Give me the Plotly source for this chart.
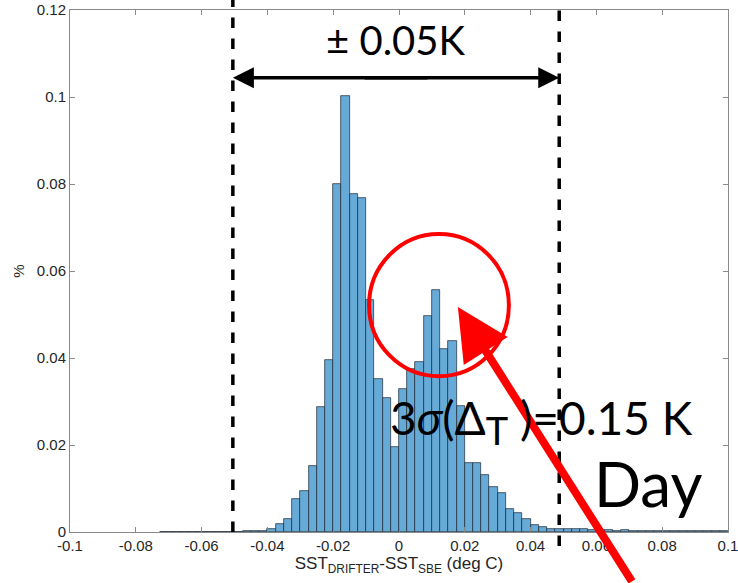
import numpy as np
import plotly.graph_objects as go

# ---- data ----
bin_width = 0.0025
first_bin_left = -0.0725
pct = [
    # -0.0725 .. -0.0425
    0.0001, 0.0001, 0.0001, 0.0001, 0.0001, 0.0001, 0.0001, 0.0001,
    0.0001, 0.0001, 0.0002, 0.0002, 0.0003,
    # -0.04 .. 0.0475
    0.0007, 0.0019, 0.0030, 0.0075, 0.0094, 0.0151, 0.0288, 0.0395,
    0.0801, 0.1002, 0.0778, 0.0767, 0.0533, 0.0351, 0.0308, 0.0195,
    0.0328, 0.0374, 0.0390, 0.0496, 0.0556, 0.0420, 0.0439, 0.0290,
    0.0159, 0.0158, 0.0130, 0.0104, 0.0090, 0.0054, 0.0044, 0.0029,
    0.0015, 0.0012, 0.0007, 0.0007,
    # 0.05 .. 0.0975
    0.0008, 0.0007, 0.0006, 0.0005, 0.0004, 0.0004, 0.0003, 0.0004,
    0.0003, 0.0003, 0.0002, 0.0003, 0.0002, 0.0003, 0.0002, 0.0003,
    0.0002, 0.0003, 0.0002, 0.0003,
]
bin_centers = [round(first_bin_left + bin_width * (i + 0.5), 5) for i in range(len(pct))]

x_tickvals = [-0.1, -0.08, -0.06, -0.04, -0.02, 0, 0.02, 0.04, 0.06, 0.08, 0.1]
x_ticktext = ["-0.1", "-0.08", "-0.06", "-0.04", "-0.02", "0", "0.02", "0.04", "0.06", "0.08", "0.1"]
y_tickvals = [0, 0.02, 0.04, 0.06, 0.08, 0.1, 0.12]
y_ticktext = ["0", "0.02", "0.04", "0.06", "0.08", "0.1", "0.12"]

# annotation values (data units)
limit_lines = [-0.0505, 0.0487]
circle_x = [-0.0091, 0.0334]
circle_y = [0.0358, 0.0685]
arrow_tip = (0.0179, 0.0517)

fig = go.Figure()
fig.add_trace(go.Bar(
    x=bin_centers, y=pct, width=bin_width,
    marker=dict(color="rgb(102,170,215)", line=dict(color="#1c2733", width=0.7)),
    showlegend=False, hoverinfo="x+y",
))

axis_common = dict(
    showline=True, linecolor="#8a8a8a", linewidth=1, mirror="ticks",
    ticks="inside", ticklen=5, tickcolor="#8a8a8a", showgrid=False, zeroline=False,
    tickfont=dict(family="Liberation Sans", size=15, color="#262626"),
    automargin=False, ticklabeloverflow="allow",
)

fig.update_layout(
    width=738, height=583,
    margin=dict(l=70, r=10, t=10, b=51),
    plot_bgcolor="white", paper_bgcolor="white",
    bargap=0,
    xaxis=dict(range=[-0.1, 0.1], tickvals=x_tickvals, ticktext=x_ticktext,
               title=dict(text="SST<sub>DRIFTER</sub>-SST<sub>SBE</sub> (deg C)",
                          font=dict(family="Liberation Sans", size=17, color="#262626"),
                          standoff=4),
               **axis_common),
    yaxis=dict(range=[0, 0.12], tickvals=y_tickvals, ticktext=y_ticktext,
               title=dict(text="%", font=dict(family="Liberation Sans", size=15, color="#262626"),
                          standoff=8),
               **axis_common),
)

# dashed limit lines
fig.add_shape(type="line", xref="x", yref="paper", x0=limit_lines[0], x1=limit_lines[0],
              y0=0, y1=1.02, line=dict(color="black", width=3.5, dash="dash"))
fig.add_shape(type="line", xref="x", yref="paper", x0=limit_lines[1], x1=limit_lines[1],
              y0=-0.027, y1=1.0, line=dict(color="black", width=3.5, dash="dash"))

# red circle
fig.add_shape(type="circle", xref="x", yref="y", x0=circle_x[0], x1=circle_x[1],
              y0=circle_y[0], y1=circle_y[1], line=dict(color="#ff0000", width=4))

# double-headed arrow between the limit lines
arrow_y = 0.1044
mid = (limit_lines[0] + limit_lines[1]) / 2
for end, tail in [(limit_lines[0], mid + 0.01), (limit_lines[1], mid - 0.01)]:
    fig.add_annotation(x=end, y=arrow_y, ax=tail, ay=arrow_y, axref="x", ayref="y",
                       xref="x", yref="y", text="", showarrow=True,
                       arrowhead=2, arrowsize=1.2, arrowwidth=3.5, arrowcolor="black",
                       standoff=0, startstandoff=0)

fig.add_annotation(x=-0.0012, y=0.1131, xref="x", yref="y", text="± 0.05K",
                   showarrow=False, font=dict(family="Lato", size=40, color="black"))

# red arrow
fig.add_annotation(x=arrow_tip[0], y=arrow_tip[1], xref="x", yref="y",
                   ax=175, ay=310, axref="pixel", ayref="pixel", text="",
                   showarrow=True, arrowhead=2, arrowsize=1.3, arrowwidth=8,
                   arrowcolor="#ff0000", standoff=0)

fig.add_annotation(x=-0.0033, y=0.0255, xref="x", yref="y", xanchor="left", yanchor="middle",
                   text="3<i>σ</i>(Δ<sub><span style='font-size:38px'>T</span></sub> )=0.15 K",
                   showarrow=False,
                   font=dict(family="Lato", size=46, color="black"))
fig.add_annotation(x=0.0587, y=0.0112, xref="x", yref="y", xanchor="left", yanchor="middle",
                   text="Day", showarrow=False,
                   font=dict(family="Lato", size=62, color="black"))

fig.write_html("out.html", config={"displayModeBar": False},
               post_script="document.body.style.margin='0';document.body.style.overflow='hidden';")
